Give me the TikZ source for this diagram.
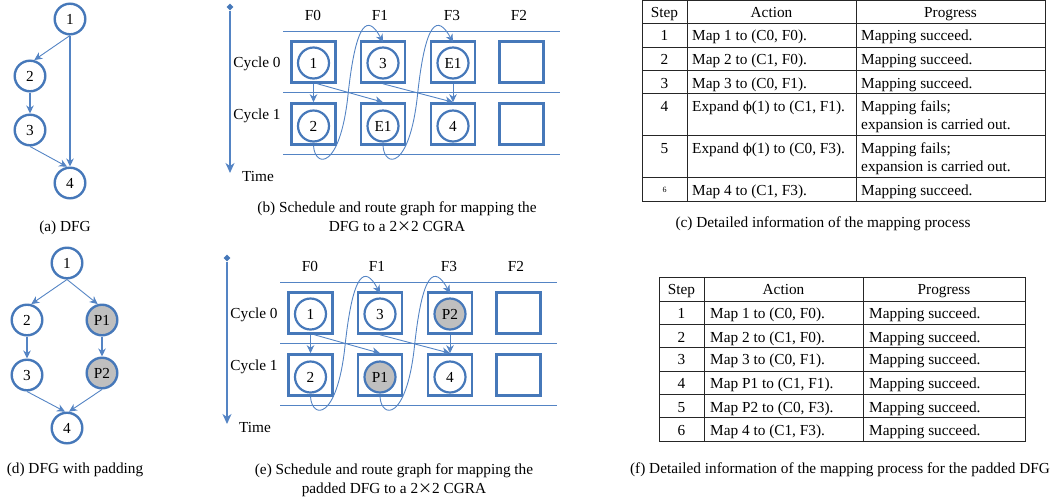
\documentclass[tikz,border=0pt]{standalone}
\usepackage{fontspec}
\setmainfont{Liberation Serif}
\newfontfamily\cjk{Noto Sans CJK SC}
\newfontfamily\dvs{DejaVu Serif}
\usetikzlibrary{arrows.meta,shapes.geometric}
\definecolor{nb}{RGB}{70,120,185}
\definecolor{lb}{RGB}{84,132,196}
\definecolor{pad}{RGB}{191,191,191}
\newcommand{\fs}{\fontsize{15.3}{18}\selectfont}
\newcommand{\mytimes}{{\cjk\fontsize{14}{18}\selectfont ×}}
\newcommand{\myphi}{{\dvs\fontsize{13.5}{18}\selectfont ϕ}}
\tikzset{
  txt/.style={inner sep=0pt, text height=10pt, text depth=0pt},
  dfg/.style={circle, draw=nb, line width=2.4pt, minimum size=30.6pt, inner sep=0pt, text height=10pt, text depth=0pt},
  pe/.style={draw=nb, line width=2.6pt, minimum width=44pt, minimum height=41pt, inner sep=0pt},
  pec/.style={circle, draw=nb, line width=2.2pt, minimum size=31pt, inner sep=0pt, text height=10pt, text depth=0pt},
  edge/.style={draw=lb, line width=0.9pt, -{Stealth[length=8pt,width=7.5pt,inset=2.5pt]}},
  thickedge/.style={edge, line width=1.3pt},
  rowline/.style={draw=lb, line width=1pt},
  timeax/.style={draw=lb, line width=1.3pt, -{Stealth[length=10pt,width=9pt,inset=3pt]}},
  tab/.style={line width=1pt, draw=black!85},
}
\newcommand{\schedgraph}[3]{%
  \node[diamond, fill=nb, minimum size=7pt, inner sep=0pt] (tt) at (230,7) {};
  \coordinate (tb) at (230,173);
  \draw[timeax] (tt) -- (tb);
  \node[txt] (time) at (258,176) {Time};
  \node[txt] (cy0) at (257,62) {Cycle 0};
  \node[txt] (cy1) at (257,114) {Cycle 1};
  \node[txt] (f0) at (313,15) {F0};
  \node[txt] (f1) at (380,15) {F1};
  \node[txt] (f3) at (452,15) {F3};
  \node[txt] (f2) at (519,15) {F2};
  \coordinate (la0) at (283,31); \coordinate (lb0) at (560,31);
  \coordinate (la1) at (283,92); \coordinate (lb1) at (560,92);
  \coordinate (la2) at (283,154); \coordinate (lb2) at (560,154);
  \draw[rowline] (la0) -- (lb0);
  \draw[rowline] (la1) -- (lb1);
  \draw[rowline] (la2) -- (lb2);
  \node[pe] (s00) at (313.5,62) {};
  \node[pe] (s01) at (383,62) {};
  \node[pe] (s02) at (453,62) {};
  \node[pe] (s03) at (521.5,62) {};
  \node[pe] (s10) at (313.5,124) {};
  \node[pe] (s11) at (383,124) {};
  \node[pe] (s12) at (453,124) {};
  \node[pe] (s13) at (521.5,124) {};
  \node[pec] (n00) at (313.5,63) {1};
  \node[pec] (n01) at (383,63) {3};
  \node[pec,#3] (n02) at (453,63) {#1};
  \node[pec] (n10) at (313.5,126) {2};
  \node[pec,#3] (n11) at (383,126) {#2};
  \node[pec] (n12) at (453,126) {4};
  \draw[edge] (s00.south) -- (s10.north);
  \draw[edge] ([xshift=4pt]s00.south) -- (s11.north);
  \draw[edge] (s01.south) -- (s12.north);
  \draw[edge] (s02.south) -- (s12.north);
  \coordinate (m1) at (348,95);
  \coordinate (m2) at (417.5,95);
  \draw[edge] (s10.south) .. controls (315,168) and (340,170) .. (m1) .. controls (356,20) and (368,14) .. ([yshift=-2pt]s01.north);
  \draw[edge] (s11.south) .. controls (384.5,168) and (409.5,170) .. (m2) .. controls (425.5,20) and (437.5,14) .. ([yshift=-2pt]s02.north);
}
\begin{document}
\begin{tikzpicture}[x=1pt, y=-1pt, font=\fs]
\useasboundingbox (0,0) rectangle (1062,499);

% (a) DFG
\node[dfg] (a1) at (70,19) {1};
\node[dfg] (a2) at (30,76) {2};
\node[dfg] (a3) at (30,130) {3};
\node[dfg] (a4) at (70,183) {4};
\draw[edge] (a1.south) -- (a2.75);
\draw[thickedge] (a1.south) -- (a4.north);
\draw[thickedge] (a2.south) -- (a3.north);
\draw[edge] (a3.south) -- (a4.100);
\node[txt] (capa) at (65,226) {(a) DFG};

% (d) DFG with padding
\node[dfg] (d1) at (67,263) {1};
\node[dfg] (d2) at (27,320) {2};
\node[dfg, fill=pad] (p1) at (102,320) {P1};
\node[dfg] (d3) at (27,375) {3};
\node[dfg, fill=pad] (p2) at (102,373) {P2};
\node[dfg] (d4) at (67,428) {4};
\draw[edge] (d1.south) -- (d2.75);
\draw[edge] (d1.south) -- (p1.105);
\draw[thickedge] (d2.south) -- (d3.north);
\draw[thickedge] (p1.south) -- (p2.north);
\draw[edge] (d3.south) -- (d4.97);
\draw[edge] (p2.south) -- (d4.83);
\node[txt] (capd) at (75,468) {(d) DFG with padding};

% (b) schedule graph
\begin{scope}[name prefix=b-]
\schedgraph{E1}{E1}{}
\end{scope}
\node[txt] (capb1) at (397,207) {(b) Schedule and route graph for mapping the};
\node[txt] (capb2) at (397,226) {DFG to a 2\mytimes2 CGRA};

% (e) schedule graph padded
\begin{scope}[shift={(-3,251)}, name prefix=e-]
\schedgraph{P2}{P1}{fill=pad}
\end{scope}
\node[txt] (cape1) at (394,469) {(e) Schedule and route graph for mapping the};
\node[txt] (cape2) at (394,488) {padded DFG to a 2\mytimes2 CGRA};

% (c) table
\draw[tab] (642,0.5) rectangle (1045,201);
\draw[tab] (687,0.5) -- (687,201);
\draw[tab] (856,0.5) -- (856,201);
\foreach \yy in {23,47,70,93,135,177} { \draw[tab] (642,\yy) -- (1045,\yy); }
\node[txt] (ch1) at (664.5,12.5) {Step};
\node[txt] (ch2) at (771.5,12.5) {Action};
\node[txt] (ch3) at (950.5,12.5) {Progress};
\node[txt] (cs1) at (664.5,35) {1};
\node[txt, anchor=west] (ca1) at (692,35) {Map 1 to (C0, F0).};
\node[txt, anchor=west] (cp1) at (861,35) {Mapping succeed.};
\node[txt] (cs2) at (664.5,59) {2};
\node[txt, anchor=west] (ca2) at (692,59) {Map 2 to (C1, F0).};
\node[txt, anchor=west] (cp2) at (861,59) {Mapping succeed.};
\node[txt] (cs3) at (664.5,83) {3};
\node[txt, anchor=west] (ca3) at (692,83) {Map 3 to (C0, F1).};
\node[txt, anchor=west] (cp3) at (861,83) {Mapping succeed.};
\node[txt] (cs4) at (664.5,106) {4};
\node[txt, anchor=west] (ca4) at (692,106) {Expand \myphi(1) to (C1, F1).};
\node[txt, anchor=west] (cp4a) at (861,106) {Mapping fails;};
\node[txt, anchor=west] (cp4b) at (861,124) {expansion is carried out.};
\node[txt] (cs5) at (664.5,148) {5};
\node[txt, anchor=west] (ca5) at (692,148) {Expand \myphi(1) to (C0, F3).};
\node[txt, anchor=west] (cp5a) at (861,148) {Mapping fails;};
\node[txt, anchor=west] (cp5b) at (861,166) {expansion is carried out.};
\node[inner sep=0pt, font=\fontsize{8}{9}\selectfont] (cs6) at (664.5,190) {6};
\node[txt, anchor=west] (ca6) at (692,190) {Map 4 to (C1, F3).};
\node[txt, anchor=west] (cp6) at (861,190) {Mapping succeed.};
\node[txt] (capc) at (823,222) {(c) Detailed information of the mapping process};

% (f) table
\draw[tab] (659,277) rectangle (1025,441);
\draw[tab] (704,277) -- (704,441);
\draw[tab] (863,277) -- (863,441);
\foreach \yy in {301,324,347,371,394,417} { \draw[tab] (659,\yy) -- (1025,\yy); }
\node[txt] (fh1) at (681.5,289) {Step};
\node[txt] (fh2) at (783.5,289) {Action};
\node[txt] (fh3) at (944,289) {Progress};
\node[txt] (fs1) at (681.5,313) {1};
\node[txt, anchor=west] (fa1) at (710,313) {Map 1 to (C0, F0).};
\node[txt, anchor=west] (fp1) at (869,313) {Mapping succeed.};
\node[txt] (fs2) at (681.5,337) {2};
\node[txt, anchor=west] (fa2) at (710,337) {Map 2 to (C1, F0).};
\node[txt, anchor=west] (fp2) at (869,337) {Mapping succeed.};
\node[txt] (fs3) at (681.5,359) {3};
\node[txt, anchor=west] (fa3) at (710,359) {Map 3 to (C0, F1).};
\node[txt, anchor=west] (fp3) at (869,359) {Mapping succeed.};
\node[txt] (fs4) at (681.5,383) {4};
\node[txt, anchor=west] (fa4) at (710,383) {Map P1 to (C1, F1).};
\node[txt, anchor=west] (fp4) at (869,383) {Mapping succeed.};
\node[txt] (fs5) at (681.5,407) {5};
\node[txt, anchor=west] (fa5) at (710,407) {Map P2 to (C0, F3).};
\node[txt, anchor=west] (fp5) at (869,407) {Mapping succeed.};
\node[txt] (fs6) at (681.5,430) {6};
\node[txt, anchor=west] (fa6) at (710,430) {Map 4 to (C1, F3).};
\node[txt, anchor=west] (fp6) at (869,430) {Mapping succeed.};
\node[txt] (capf) at (840,468) {(f) Detailed information of the mapping process for the padded DFG};
\end{tikzpicture}
\end{document}
